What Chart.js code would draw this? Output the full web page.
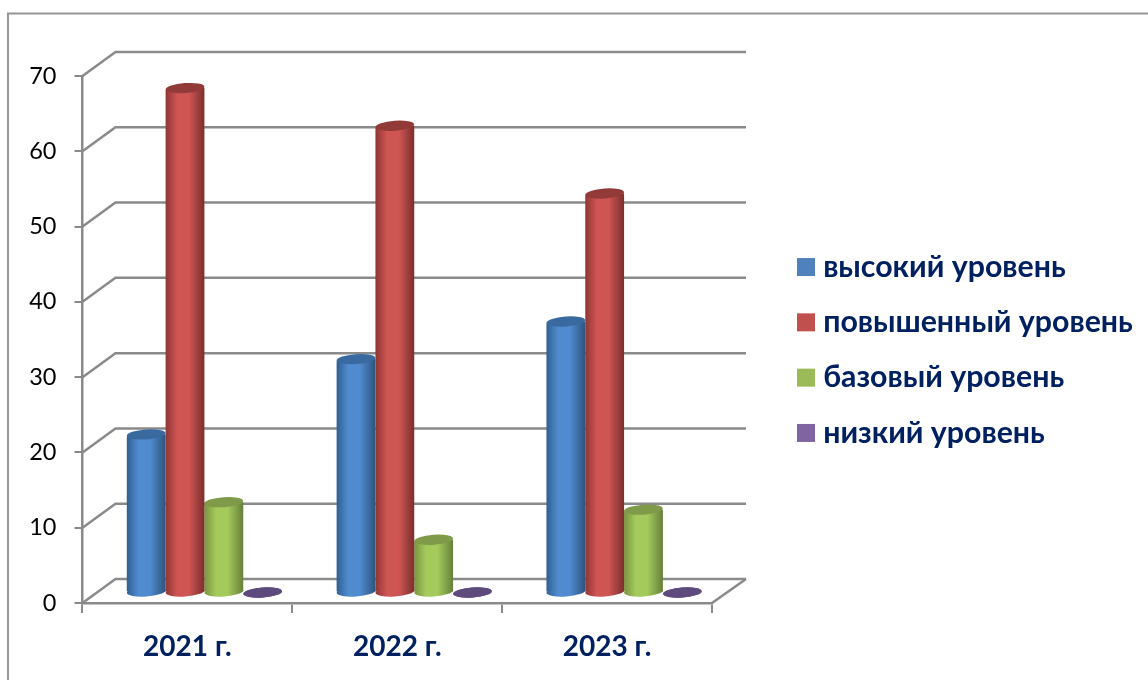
<!DOCTYPE html>
<html><head><meta charset="utf-8">
<style>html,body{margin:0;padding:0;background:#fff}canvas{display:block}</style>
<script src="https://cdn.jsdelivr.net/npm/chart.js@4"></script>
</head><body><canvas id="c" width="1148" height="680"></canvas>
<script>
const categories = ["2021 г.", "2022 г.", "2023 г."];
const seriesNames = ["высокий уровень", "повышенный уровень", "базовый уровень", "низкий уровень"];
const high = [21, 31, 36];
const raised = [67, 62, 53];
const base = [12, 7, 11];
const low = [0, 0, 0];
const flatColors = ["#4f81bd", "#c0504d", "#9bbb59", "#8064a2"];
const shades = [
  {edgeL:"#2f5f93", mid:"#508bcf", edgeR:"#2c547f", cap:"#386a9f"},
  {edgeL:"#8f3634", mid:"#cf5553", edgeR:"#7a2f2d", cap:"#923a38"},
  {edgeL:"#7a9440", mid:"#a4ca5c", edgeR:"#66803a", cap:"#7f9a48"},
  {edgeL:"#5f4a7e", mid:"#5f4a7e", edgeR:"#5f4a7e", cap:"#5f4a7e"}
];
const NAVY = "#002060", LINE = "#8a8a8a";
const DEPTH = {x:33, y:24}, BAR_SHIFT = {x:17, y:-10.5}, CAP = {ry:5, tilt:-0.07};

const look3d = {
  id:"look3d",
  beforeDraw(chart){
    const c = chart.ctx; c.save();
    c.fillStyle="#fff"; c.fillRect(0,0,chart.width,chart.height);
    c.strokeStyle="#969696"; c.lineWidth=2; c.beginPath();
    c.moveTo(8,680); c.lineTo(8,13.5); c.lineTo(1148,13.5); c.stroke(); c.restore();
  },
  afterLayout(chart){
    const l = chart.legend;
    l.left = 779; l.right = 1148;
    l.top = 150; l.bottom = 550;
  },
  beforeDatasetsDraw(chart){
    const c = chart.ctx, a = chart.chartArea, y = chart.scales.y;
    c.save(); c.strokeStyle=LINE; c.lineWidth=2.5; c.lineJoin="miter";
    y.ticks.forEach(t=>{
      const py = y.getPixelForValue(t.value);
      c.beginPath(); c.moveTo(a.left,py); c.lineTo(a.left+DEPTH.x,py-DEPTH.y); c.lineTo(a.right+DEPTH.x+1,py-DEPTH.y); c.stroke();
    });
    c.beginPath(); c.moveTo(a.right,a.bottom); c.lineTo(a.right+DEPTH.x+1,a.bottom-DEPTH.y); c.stroke();
    c.restore();
    c.save(); c.translate(BAR_SHIFT.x,BAR_SHIFT.y);
  },
  afterDatasetsDraw(chart){ chart.ctx.restore(); },
  beforeDatasetDraw(chart,args){
    const c = chart.ctx, s = shades[args.index];
    chart.getDatasetMeta(args.index).data.forEach(el=>{
      const g = c.createLinearGradient(el.x-el.width/2,0,el.x+el.width/2,0);
      g.addColorStop(0,s.edgeL); g.addColorStop(0.3,s.mid); g.addColorStop(0.6,s.mid); g.addColorStop(1,s.edgeR);
      el.options = Object.assign({},el.options,{backgroundColor:g});
    });
  },
  afterDatasetDraw(chart,args){
    const c = chart.ctx, s = shades[args.index];
    chart.getDatasetMeta(args.index).data.forEach(el=>{
      const rx = el.width/2;
      c.save();
      c.fillStyle = el.options.backgroundColor;
      c.beginPath(); c.ellipse(el.x,el.base,rx,CAP.ry,CAP.tilt,0,Math.PI*2); c.fill();
      c.fillStyle = s.cap;
      c.beginPath(); c.ellipse(el.x,el.y,rx,CAP.ry,CAP.tilt,0,Math.PI*2); c.fill();
      c.restore();
    });
  }
};

const series = [high, raised, base, low];
new Chart(document.getElementById("c"),{
  type:"bar",
  plugins:[look3d],
  data:{labels:categories,datasets:series.map((d,i)=>({label:seriesNames[i],data:d,backgroundColor:flatColors[i],borderWidth:0,borderRadius:{topLeft:3,topRight:0,bottomLeft:0,bottomRight:0},clip:false,categoryPercentage:0.74,barPercentage:1}))},
  options:{
    responsive:false,animation:false,devicePixelRatio:1,
    layout:{padding:{left:0,top:76,right:436,bottom:0}},
    plugins:{
      tooltip:{enabled:false},
      legend:{
        position:"chartArea",align:"center",
        labels:{
          font:{family:"Lato, 'Open Sans', sans-serif",size:30.3,weight:"bold"},color:NAVY,
          boxWidth:4,boxHeight:4,padding:25,
          generateLabels:ch=>ch.data.datasets.map((d,i)=>({text:d.label,fillStyle:flatColors[i],strokeStyle:flatColors[i],lineWidth:14,datasetIndex:i,fontColor:NAVY}))
        }
      }
    },
    scales:{
      x:{
        afterFit:s=>{s.height=77;s.paddingLeft=0;s.paddingRight=0;},
        border:{color:LINE,width:2.5},
        grid:{display:true,drawOnChartArea:false,color:LINE,tickColor:LINE,tickLength:10,lineWidth:2},
        ticks:{color:NAVY,padding:17,maxRotation:0,font:{family:"Lato, 'Open Sans', sans-serif",size:28,weight:"bold"}}
      },
      y:{
        min:0,max:70,
        afterFit:s=>{s.width=82.5;s.paddingTop=0;s.paddingBottom=0;},
        border:{color:LINE,width:2.5},
        grid:{display:true,drawOnChartArea:false,color:LINE,tickColor:LINE,tickLength:8,lineWidth:2},
        ticks:{stepSize:10,color:"#000",padding:18,font:{family:"Lato, 'Open Sans', sans-serif",size:23.5}}
      }
    }
  }
});
</script></body></html>
